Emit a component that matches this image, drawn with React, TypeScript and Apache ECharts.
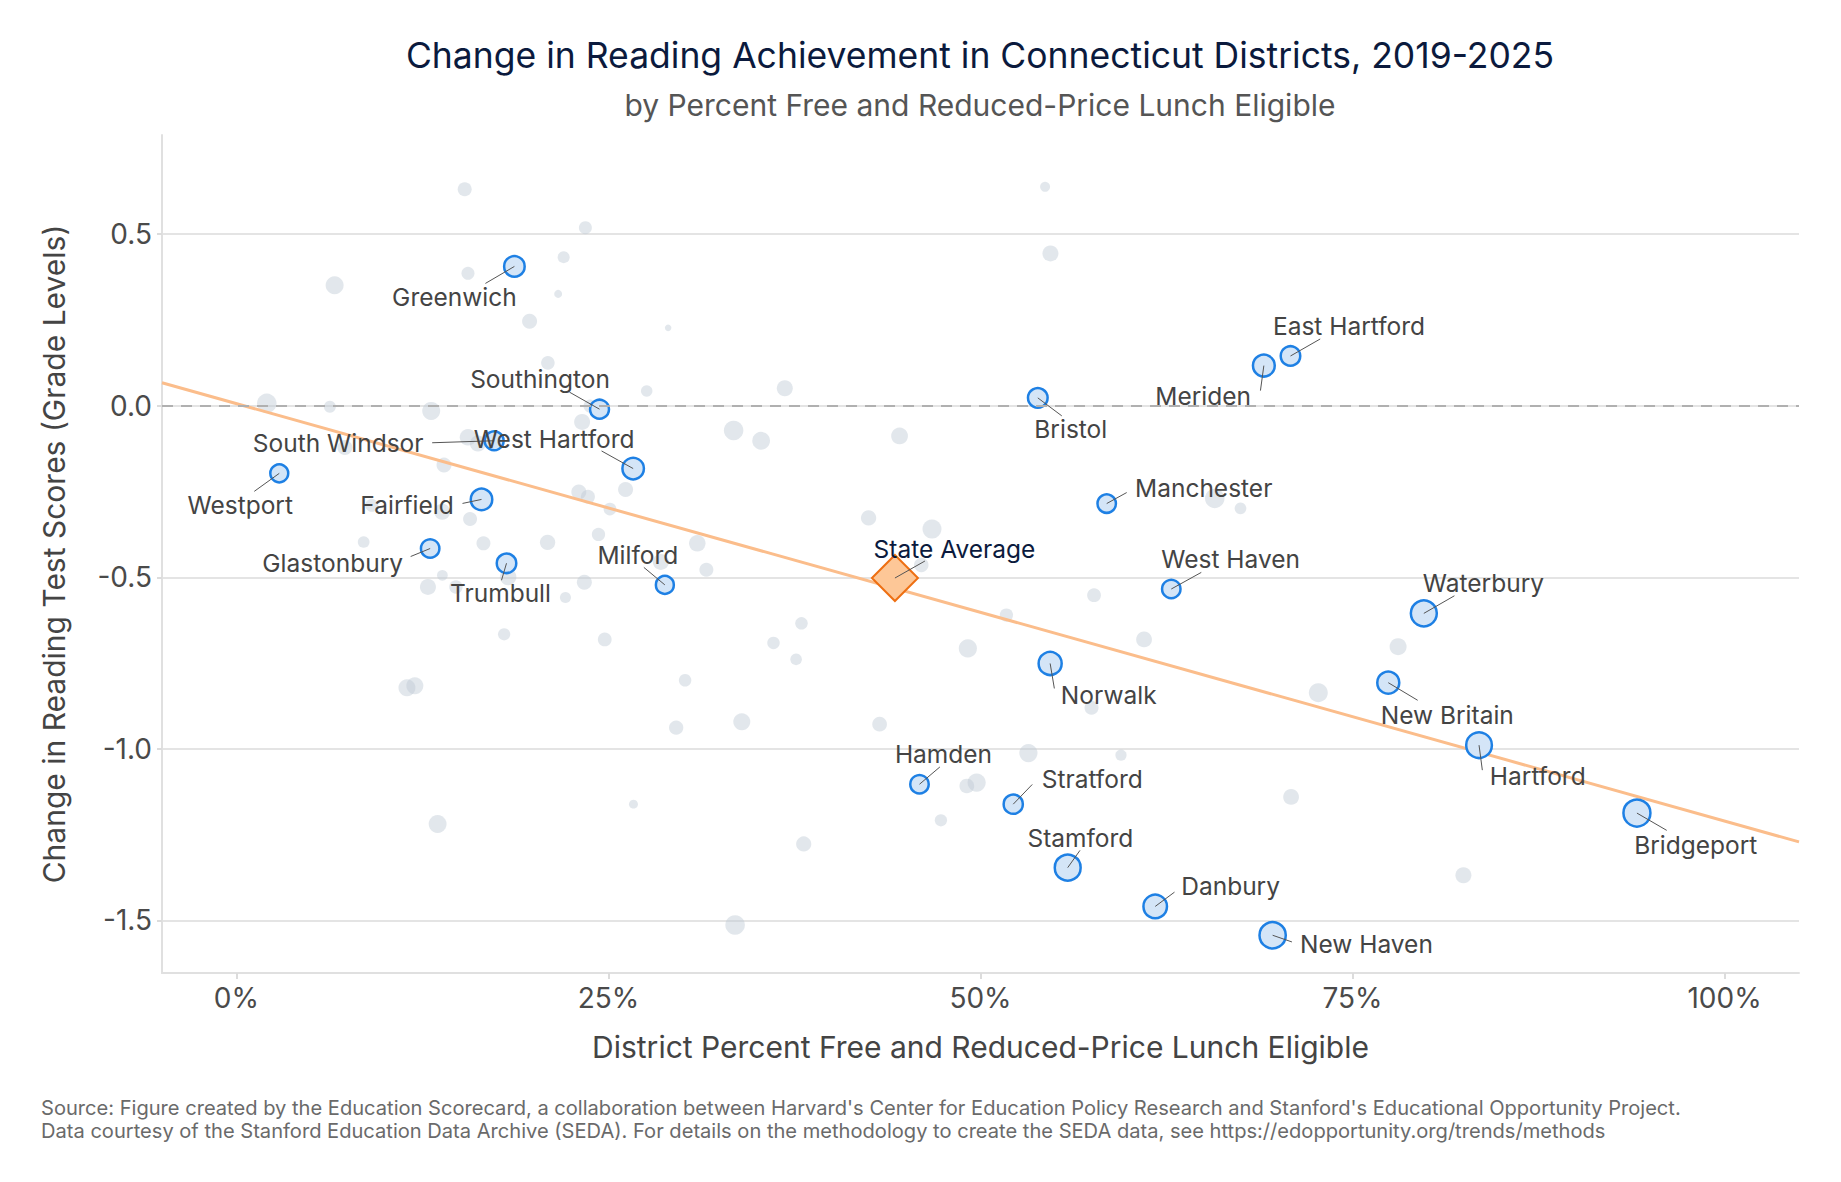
import React, { useEffect, useRef } from "react";
import * as echarts from "echarts";

const FONT = "Inter, 'Noto Sans', sans-serif";

// ---- axis ticks ----
const tickValuesX = [0, 25, 50, 75, 100];
const tickValuesY = [-1.5, -1.0, -0.5, 0, 0.5];

// ---- labeled districts ----
const labeledNames = [
  "Greenwich", "Southington", "South Windsor", "West Hartford", "Westport",
  "Fairfield", "Glastonbury", "Trumbull", "Milford", "Bristol",
  "Manchester", "West Haven", "Meriden", "East Hartford", "Waterbury",
  "New Britain", "Hartford", "Bridgeport", "Norwalk", "Hamden",
  "Stratford", "Stamford", "Danbury", "New Haven",
];
const labeledFRPL = [
  18.68, 24.40, 17.32, 26.66, 2.88,
  16.47, 13.02, 18.15, 28.79, 53.85,
  58.48, 62.82, 69.04, 70.83, 79.79,
  77.40, 83.50, 94.11, 54.68, 45.90,
  52.20, 55.86, 61.74, 69.63,
];
const labeledChange = [
  0.406, -0.010, -0.102, -0.183, -0.197,
  -0.273, -0.416, -0.459, -0.522, 0.023,
  -0.285, -0.534, 0.117, 0.145, -0.605,
  -0.807, -0.989, -1.187, -0.751, -1.103,
  -1.161, -1.346, -1.459, -1.543,
];
// enrollment (thousands of students)
const labeledEnrollment = [
  7.6, 6.2, 6.2, 8.5, 5.4,
  8.5, 5.8, 6.7, 5.4, 6.8,
  5.8, 5.8, 8.8, 6.7, 13.4,
  9.0, 13.1, 14.7, 10.1, 5.8,
  6.4, 13.3, 10.6, 13.8,
];

// ---- other districts ----
const otherFRPL = [
  15.34, 23.45, 21.99, 15.56, 6.60, 21.62, 19.70, 29.01, 20.93, 27.57,
  2.04, 6.28, 13.09, 23.23, 23.76, 15.56, 16.23, 7.29, 13.95, 23.01,
  23.62, 26.15, 25.10, 9.09, 13.83, 15.70, 8.55, 16.60, 20.91, 24.33,
  30.97, 31.58, 13.84, 12.87, 14.75, 18.26, 23.38, 22.11, 28.52, 17.99,
  24.75, 37.97, 36.09, 37.61, 11.46, 11.99, 30.15, 29.55, 33.96, 13.52,
  26.68, 38.12, 33.51, 54.34, 54.70, 36.85, 33.41, 35.26, 44.56, 42.48,
  46.74, 46.02, 57.63, 65.74, 67.47, 49.15, 60.99, 72.70, 43.22, 57.46,
  53.22, 59.44, 49.74, 49.08, 47.34, 51.74, 70.87, 78.06, 82.45,
];
const otherChange = [
  0.631, 0.519, 0.433, 0.386, 0.351, 0.326, 0.246, 0.227, 0.125, 0.043,
  0.007, -0.003, -0.015, -0.047, -0.001, -0.092, -0.110, -0.122, -0.173, -0.251,
  -0.265, -0.244, -0.301, -0.290, -0.309, -0.330, -0.397, -0.401, -0.398, -0.375,
  -0.401, -0.478, -0.494, -0.528, -0.528, -0.499, -0.514, -0.559, -0.455, -0.666,
  -0.681, -0.634, -0.691, -0.739, -0.822, -0.816, -0.800, -0.938, -0.921, -1.219,
  -1.161, -1.277, -1.513, 0.638, 0.444, 0.051, -0.072, -0.102, -0.088, -0.327,
  -0.359, -0.464, -0.552, -0.270, -0.299, -0.707, -0.681, -0.836, -0.928, -0.880,
  -1.012, -1.018, -1.098, -1.108, -1.208, -0.610, -1.140, -0.702, -1.368,
];
const otherEnrollment = [
  2.78, 2.25, 1.78, 2.25, 5.44, 0.44, 3.36, 0.17, 2.56, 1.56,
  6.67, 1.78, 5.44, 4.0, 2.25, 4.34, 4.0, 3.36, 3.36, 3.36,
  2.78, 3.36, 2.10, 2.25, 4.0, 2.78, 1.65, 2.78, 3.55, 2.40,
  4.34, 2.78, 1.25, 4.0, 2.45, 4.34, 3.36, 1.36, 4.0, 1.91,
  2.67, 2.01, 2.01, 1.60, 4.69, 4.69, 2.01, 2.95, 4.69, 5.37,
  0.67, 3.48, 6.76, 1.0, 4.0, 4.0, 6.67, 5.29, 4.55, 3.55,
  6.25, 3.06, 2.67, 6.67, 1.65, 5.60, 3.87, 6.25, 3.18, 2.78,
  5.60, 1.44, 5.60, 3.18, 1.91, 2.40, 3.87, 4.69, 4.0,
];

// ---- state average and fitted trend line ----
const stateAverageName = "State Average";
const stateAverageFRPL = 44.25;
const stateAverageChange = -0.502;
const trendFRPL = [-5, 105];
const trendChange = [0.067, -1.271];

// ---- label placement (pixel offsets from the point: text center, leader end) ----
const labelPlacement: Record<string, number[]> = {
  "Greenwich": [-60, 31, -29, 17],
  "Southington": [-59.5, -30, -30, -17],
  "South Windsor": [-156, 2, -62, 2],
  "West Hartford": [-79, -30, -31.6, -17.6],
  "Westport": [-39, 32, -25, 18],
  "Fairfield": [-74.5, 6, -19, 4],
  "Glastonbury": [-97.5, 14, -19.5, 8],
  "Trumbull": [-6, 30, -5, 17],
  "Milford": [-27, -30, -21, -17.5],
  "Bristol": [33, 31, 24, 18],
  "Manchester": [97, -16, 20, -11],
  "West Haven": [59.4, -30, 30, -16.6],
  "Meriden": [-60.7, 30.6, -3.4, 25],
  "East Hartford": [58.5, -30, 29.7, -17],
  "Waterbury": [59.6, -30, 30.6, -17.6],
  "New Britain": [59, 32, 29.4, 17.6],
  "Hartford": [58.7, 30.6, 3.3, 25],
  "Bridgeport": [58.8, 31.8, 29.8, 17.3],
  "Norwalk": [58.6, 31.4, 4.2, 25],
  "Hamden": [24, -30, 20.4, -17.3],
  "Stratford": [79, -25, 19, -19.7],
  "Stamford": [12.7, -30, 12.3, -17.3],
  "Danbury": [75.4, -20, 19.3, -14.3],
  "New Haven": [93.8, 9, 19.3, 6.7],
  "State Average": [59.5, -29.4, 30, -17],
};

const sizeFromEnrollment = (e: number) => 4 + 6 * Math.sqrt(e);

function buildOption(): any {
  const otherData = otherFRPL.map((x, i) => [x, otherChange[i], otherEnrollment[i]]);
  const labeledData = labeledFRPL.map((x, i) => [x, labeledChange[i], labeledEnrollment[i]]);
  const calloutNames = [...labeledNames, stateAverageName];
  const calloutData = [
    ...labeledFRPL.map((x, i) => [x, labeledChange[i]]),
    [stateAverageFRPL, stateAverageChange],
  ];
  const trendData = trendFRPL.map((x, i) => [x, trendChange[i]]);

  return {
    animation: false,
    backgroundColor: "#ffffff",
    textStyle: { fontFamily: FONT },
    grid: { left: 162, right: 42, top: 135, bottom: 209, containLabel: false },
    graphic: [
      {
        type: "text",
        x: 980,
        y: 55,
        style: {
          text: "Change in Reading Achievement in Connecticut Districts, 2019-2025",
          fill: "#0b1a3d",
          font: `35.5px ${FONT}`,
          textAlign: "center",
          textVerticalAlign: "middle",
        },
      },
      {
        type: "text",
        x: 980,
        y: 105,
        style: {
          text: "by Percent Free and Reduced-Price Lunch Eligible",
          fill: "#555555",
          font: `30px ${FONT}`,
          textAlign: "center",
          textVerticalAlign: "middle",
        },
      },
      {
        type: "text",
        x: 41,
        y: 1107.5,
        style: {
          text:
            "Source: Figure created by the Education Scorecard, a collaboration between Harvard's Center for Education Policy Research and Stanford's Educational Opportunity Project.",
          fill: "#6a6a6a",
          font: `20.1px ${FONT}`,
          textAlign: "left",
          textVerticalAlign: "middle",
        },
      },
      {
        type: "text",
        x: 41,
        y: 1130.5,
        style: {
          text:
            "Data courtesy of the Stanford Education Data Archive (SEDA). For details on the methodology to create the SEDA data, see https://edopportunity.org/trends/methods",
          fill: "#6a6a6a",
          font: `20.1px ${FONT}`,
          textAlign: "left",
          textVerticalAlign: "middle",
        },
      },
    ],
    xAxis: {
      type: "value",
      min: -5,
      max: 105,
      axisLine: { show: true, onZero: false, lineStyle: { color: "#e0e0e0", width: 2 } },
      axisTick: {
        show: true,
        customValues: tickValuesX,
        length: 6,
        lineStyle: { color: "#dcdcdc", width: 2 },
      },
      axisLabel: {
        customValues: tickValuesX,
        formatter: (v: number) => `${v}%`,
        fontSize: 28,
        color: "#4a4a4a",
        margin: 11,
        fontFamily: FONT,
      },
      splitLine: { show: false },
      name: "District Percent Free and Reduced-Price Lunch Eligible",
      nameLocation: "middle",
      nameGap: 59,
      nameTextStyle: { fontSize: 30, color: "#444444", fontFamily: FONT },
    },
    yAxis: {
      type: "value",
      min: -1.653,
      max: 0.789,
      axisLine: { show: true, onZero: false, lineStyle: { color: "#e0e0e0", width: 2 } },
      axisTick: {
        show: true,
        customValues: tickValuesY,
        length: 5,
        lineStyle: { color: "#dcdcdc", width: 2 },
      },
      axisLabel: {
        customValues: tickValuesY,
        formatter: (v: number) => v.toFixed(1),
        fontSize: 28,
        color: "#4a4a4a",
        margin: 10,
        fontFamily: FONT,
      },
      splitLine: { show: true, lineStyle: { color: "#e4e4e4", width: 2 } },
      name: "Change in Reading Test Scores (Grade Levels)",
      nameLocation: "middle",
      nameGap: 93,
      nameRotate: 90,
      nameTextStyle: { fontSize: 30, color: "#444444", fontFamily: FONT },
    },
    series: [
      {
        name: "Other districts",
        type: "scatter",
        data: otherData,
        symbolSize: (val: number[]) => sizeFromEnrollment(val[2]),
        itemStyle: { color: "rgba(190,200,212,0.55)" },
        z: 2,
        silent: true,
        markLine: {
          silent: true,
          symbol: ["none", "none"],
          label: { show: false },
          lineStyle: { color: "#b0b0b0", width: 2, type: [11, 8] },
          data: [{ yAxis: 0 }],
        },
      },
      {
        name: "Trend",
        type: "line",
        data: trendData,
        showSymbol: false,
        symbol: "none",
        lineStyle: { color: "#fbbd8b", width: 3 },
        z: 3,
        silent: true,
      },
      {
        name: "Labeled districts",
        type: "scatter",
        data: labeledData,
        symbolSize: (val: number[]) => sizeFromEnrollment(val[2]),
        itemStyle: { color: "#d4e5f7", borderColor: "#1e80e4", borderWidth: 2.5, opacity: 1 },
        z: 4,
        silent: true,
      },
      {
        name: "State Average",
        type: "scatter",
        data: [[stateAverageFRPL, stateAverageChange]],
        symbol: "diamond",
        symbolSize: 46,
        itemStyle: { color: "#fdc797", borderColor: "#ee6f12", borderWidth: 2, opacity: 1 },
        z: 5,
        silent: true,
      },
      {
        name: "Callouts",
        type: "custom",
        data: calloutData,
        z: 6,
        silent: true,
        clip: false,
        renderItem: (params: any, api: any) => {
          const name = calloutNames[params.dataIndex];
          const p = api.coord([api.value(0), api.value(1)]);
          const o = labelPlacement[name] || [0, -30, 0, -17];
          const isState = name === stateAverageName;
          return {
            type: "group",
            children: [
              {
                type: "line",
                shape: { x1: p[0], y1: p[1], x2: p[0] + o[2], y2: p[1] + o[3] },
                style: { stroke: "#555555", lineWidth: 1 },
              },
              {
                type: "text",
                x: p[0] + o[0],
                y: p[1] + o[1],
                style: {
                  text: name,
                  fill: isState ? "#0b1a3d" : "#444444",
                  font: `24.5px ${FONT}`,
                  textAlign: "center",
                  textVerticalAlign: "middle",
                },
              },
            ],
          };
        },
      },
    ],
  };
}

export default function App() {
  const ref = useRef<HTMLDivElement>(null);
  useEffect(() => {
    if (!ref.current) return;
    const chart = echarts.init(ref.current, null, { renderer: "svg" });
    chart.setOption(buildOption());
    return () => chart.dispose();
  }, []);
  return (
    <div
      ref={ref}
      style={{ position: "fixed", left: 0, top: 0, width: 1841, height: 1182, background: "#ffffff" }}
    />
  );
}
